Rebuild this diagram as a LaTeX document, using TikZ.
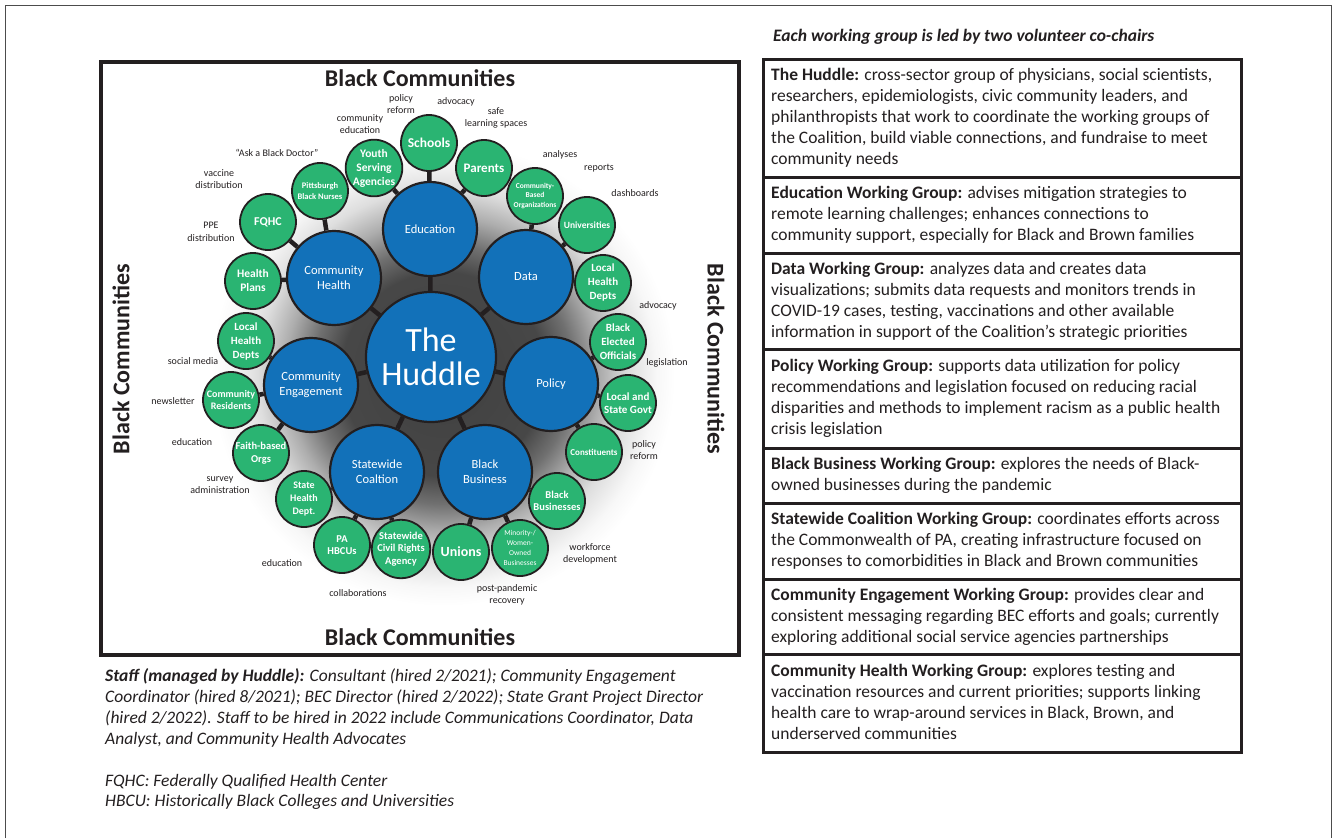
\documentclass[tikz,border=0pt]{standalone}
\usepackage{fontspec}
\setmainfont{Carlito}
\definecolor{hubblue}{RGB}{18,113,185}
\definecolor{leafgreen}{RGB}{42,180,114}
\definecolor{ink}{RGB}{35,31,32}
% soft grey halo behind the whole cluster of circles (25bp = edge of the shaded disc)
\pgfdeclareradialshading{halo}{\pgfpoint{0bp}{0bp}}{color(0bp)=(black!75); color(11bp)=(black!72); color(14bp)=(black!56); color(17bp)=(black!32); color(20bp)=(black!13); color(23bp)=(black!3); color(25bp)=(white); color(50bp)=(white)}
\pgfdeclarelayer{halolayer}
\pgfdeclarelayer{stubs}
\pgfsetlayers{halolayer,stubs,main}
\newcommand{\fs}[2]{\fontsize{#1}{#2}\selectfont}
\begin{document}
\begin{tikzpicture}[x=1pt,y=-1pt,
  hub/.style={circle, draw=ink, line width=2.2pt, fill=hubblue, text=white,
    minimum size=94pt, inner sep=0pt, align=center, font=\fs{12.5}{15}},
  leaf/.style={circle, draw=ink, line width=1.8pt, fill=leafgreen, text=white,
    minimum size=56pt, inner sep=0pt, align=center, font=\bfseries\fs{10.5}{13}},
  link/.style={line width=4.5pt, draw=ink},
  note/.style={font=\fs{10}{12.5}, text=ink, align=center, inner sep=0pt},
  sidetitle/.style={font=\bfseries\fs{24}{28}, text=ink, inner sep=0pt},
  desc/.style={anchor=north west, align=left, inner sep=0pt, font=\fs{17.5}{21}, text=ink,
    execute at begin node={\rule{0pt}{12pt}}},
  panel/.style={draw=ink, line width=3pt}]
\useasboundingbox (0,0) rectangle (1333,838);

% outer frame of the figure
\draw[black!70, line width=0.8pt] (5.5,838) -- (5.5,5.5) -- (1331,5.5) -- (1331,838);

% ---------------- left: the Huddle diagram ----------------
\draw[ink, line width=4.5pt] (101,62) rectangle (739,655);

\begin{pgfonlayer}{halolayer}
  \shade[shading=halo] (443,374) circle [radius=232pt];
\end{pgfonlayer}

\node[hub, minimum size=130pt, font=\fs{34}{34}] (huddle) at (431,357) {The\\Huddle};

\node[hub] (edu)  at (430,229) {Education};
\node[hub] (data) at (526,277) {Data};
\node[hub] (pol)  at (551,384) {Policy};
\node[hub] (biz)  at (485,472) {Black\\Business};
\node[hub] (state) at (377,472) {Statewide\\Coaltion};
\node[hub] (eng)  at (311,385) {Community\\Engagement};
\node[hub] (health) at (334,278) {Community\\Health};

% education partners
\node[leaf, font=\bfseries\fs{13.5}{15}] (schools) at (429,143) {Schools};
\node[leaf, font=\bfseries\fs{11.5}{14}] (youth) at (374,168) {Youth\\Serving\\Agencies};
\node[leaf, font=\bfseries\fs{13}{15}] (parents) at (484,168) {Parents};
% community health partners
\node[leaf, font=\bfseries\fs{8.5}{11}] (nurses) at (320,191) {Pittsburgh\\Black Nurses};
\node[leaf, font=\bfseries\fs{12}{14}] (fqhc) at (268,222) {FQHC};
\node[leaf, font=\bfseries\fs{11.5}{14}] (plans) at (253,281) {Health\\Plans};
% data partners
\node[leaf, font=\bfseries\fs{7.5}{9.7}] (cbo) at (535,196) {Community-\\Based\\Organizations};
\node[leaf, font=\bfseries\fs{9.5}{11}] (univ) at (587,225) {Universities};
\node[leaf, font=\bfseries\fs{11}{14}] (lhdr) at (603,283) {Local\\Health\\Depts};
% policy partners
\node[leaf, font=\bfseries\fs{11}{14}] (elected) at (618,342) {Black\\Elected\\Officials};
\node[leaf, font=\bfseries\fs{11}{13.5}] (govt) at (628,403) {Local and\\State Govt};
\node[leaf, font=\bfseries\fs{9}{11}] (const) at (594,452) {Constituents};
% black business partners
\node[leaf, font=\bfseries\fs{10.5}{12.5}] (bizs) at (557,501) {Black\\Businesses};
\node[leaf, font=\fs{7.5}{10}] (minority) at (520,548) {Minority-/\\Women-\\Owned\\Businesses};
\node[leaf, font=\bfseries\fs{14}{16}] (unions) at (461,552) {Unions};
% statewide coalition partners
\node[leaf, font=\bfseries\fs{10.5}{12.5}] (civil) at (401,549) {Statewide\\Civil Rights\\Agency};
\node[leaf, font=\bfseries\fs{10.5}{12.5}] (hbcu) at (342,545) {PA\\HBCUs};
\node[leaf, font=\bfseries\fs{10}{12.5}] (shd) at (304,499) {State\\Health\\Dept.};
% community engagement partners
\node[leaf, font=\bfseries\fs{10.5}{12.5}] (faith) at (261,453) {Faith-based\\Orgs};
\node[leaf, font=\bfseries\fs{10}{12}] (resid) at (231,400) {Community\\Residents};
\node[leaf, font=\bfseries\fs{11}{14}] (lhdl) at (246,341) {Local\\Health\\Depts};

% short bars joining each circle to its hub
\begin{pgfonlayer}{stubs}
  \foreach \a/\b in {huddle/edu, huddle/data, huddle/pol, huddle/biz, huddle/state, huddle/eng, huddle/health,
      edu/schools, edu/youth, edu/parents,
      health/nurses, health/fqhc, health/plans,
      data/cbo, data/univ, data/lhdr,
      pol/elected, pol/govt, pol/const,
      biz/bizs, biz/minority, biz/unions,
      state/civil, state/hbcu, state/shd,
      eng/faith, eng/resid, eng/lhdl}
    \draw[link] (\a) -- (\b);
\end{pgfonlayer}

% activity labels
\node[note] (n1) at (401,104) {policy\\reform};
\node[note] (n2) at (456,102) {advocacy};
\node[note] (n3) at (360,124) {community\\education};
\node[note] (n4) at (496,118) {safe\\learning spaces};
\node[note] (n5) at (277,153) {“Ask a Black Doctor”};
\node[note] (n6) at (219,179) {vaccine\\distribution};
\node[note] (n7) at (211,232) {PPE\\distribution};
\node[note] (n8) at (560,155) {analyses};
\node[note] (n9) at (599,168) {reports};
\node[note] (n10) at (635,193) {dashboards};
\node[note] (n11) at (658,306) {advocacy};
\node[note] (n12) at (667,363) {legislation};
\node[note] (n13) at (644,450) {policy\\reform};
\node[note] (n14) at (590,554) {workforce\\development};
\node[note] (n15) at (507,595) {post-pandemic\\recovery};
\node[note] (n16) at (358,593) {collaborations};
\node[note] (n17) at (282,563) {education};
\node[note] (n18) at (220,485) {survey\\administration};
\node[note] (n19) at (192,442) {education};
\node[note] (n20) at (173,401) {newsletter};
\node[note] (n21) at (193,361) {social media};

% community labels on all four sides
\node[sidetitle] (ctop) at (420,78) {Black Communities};
\node[sidetitle] (cbot) at (420,637) {Black Communities};
\node[sidetitle, rotate=90] (cleft) at (121,359) {Black Communities};
\node[sidetitle, rotate=-90] (cright) at (716,359) {Black Communities};

% ---------------- notes under the diagram ----------------
\node[desc, font=\itshape\fs{17.5}{21}] (staff) at (105,668)
  {\textbf{Staff (managed by Huddle):} Consultant (hired 2/2021); Community Engagement\\
   Coordinator (hired 8/2021); BEC Director (hired 2/2022); State Grant Project Director\\
   (hired 2/2022). Staff to be hired in 2022 include Communications Coordinator, Data\\
   Analyst, and Community Health Advocates};
\node[desc, font=\itshape\fs{17.5}{20.5}] (abbr) at (105,774)
  {FQHC: Federally Qualified Health Center\\
   HBCU: Historically Black Colleges and Universities};

% ---------------- right: working group descriptions ----------------
\node[desc, font=\bfseries\itshape\fs{17.5}{21}] (head) at (773,29)
  {Each working group is led by two volunteer co-chairs};

\draw[panel] (763,59) rectangle (1241,752);
\foreach \yy in {177,253,349,448,503,579,654}
  \draw[panel] (763,\yy) -- (1241,\yy);

\node[desc] (g1) at (771,68)
  {\textbf{The Huddle:} cross-sector group of physicians, social scientists,\\
   researchers, epidemiologists, civic community leaders, and\\
   philanthropists that work to coordinate the working groups of\\
   the Coalition, build viable connections, and fundraise to meet\\
   community needs};
\node[desc] (g2) at (771,186)
  {\textbf{Education Working Group:} advises mitigation strategies to\\
   remote learning challenges; enhances connections to\\
   community support, especially for Black and Brown families};
\node[desc] (g3) at (771,262)
  {\textbf{Data Working Group:} analyzes data and creates data\\
   visualizations; submits data requests and monitors trends in\\
   COVID-19 cases, testing, vaccinations and other available\\
   information in support of the Coalition’s strategic priorities};
\node[desc] (g4) at (771,359)
  {\textbf{Policy Working Group:} supports data utilization for policy\\
   recommendations and legislation focused on reducing racial\\
   disparities and methods to implement racism as a public health\\
   crisis legislation};
\node[desc] (g5) at (771,457)
  {\textbf{Black Business Working Group:} explores the needs of Black-\\
   owned businesses during the pandemic};
\node[desc] (g6) at (771,512)
  {\textbf{Statewide Coalition Working Group:} coordinates efforts across\\
   the Commonwealth of PA, creating infrastructure focused on\\
   responses to comorbidities in Black and Brown communities};
\node[desc] (g7) at (771,588)
  {\textbf{Community Engagement Working Group:} provides clear and\\
   consistent messaging regarding BEC efforts and goals; currently\\
   exploring additional social service agencies partnerships};
\node[desc] (g8) at (771,664)
  {\textbf{Community Health Working Group:} explores testing and\\
   vaccination resources and current priorities; supports linking\\
   health care to wrap-around services in Black, Brown, and\\
   underserved communities};
\end{tikzpicture}
\end{document}
